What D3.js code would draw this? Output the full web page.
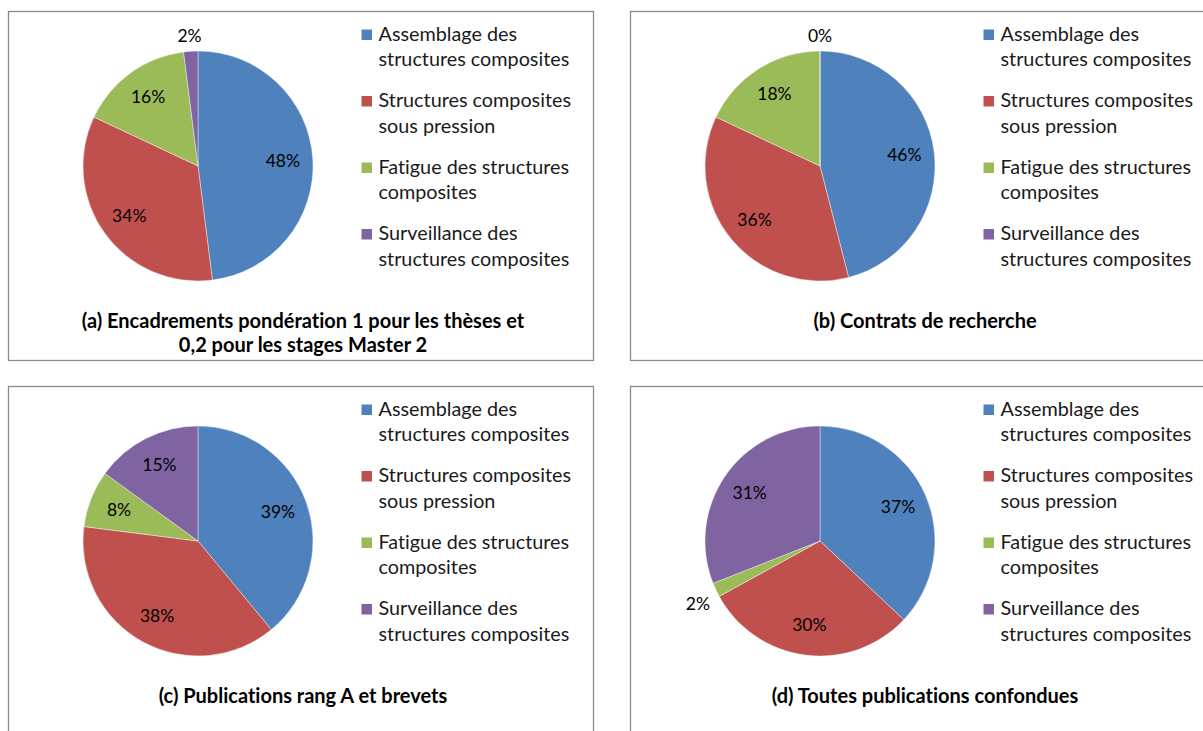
<!DOCTYPE html>
<html lang="fr">
<head>
<meta charset="UTF-8">
<title>Répartition des activités</title>
<style>
  html, body { margin: 0; padding: 0; background: #fff; }
  svg { display: block; font-family: Lato, "Open Sans", sans-serif; font-variant-ligatures: none; }
</style>
</head>
<body>
<div id="chart"></div>
<script src="https://cdn.jsdelivr.net/npm/d3@7"></script>
<script>
// data
var categories = [
  "Assemblage des structures composites",
  "Structures composites sous pression",
  "Fatigue des structures composites",
  "Surveillance des structures composites"
];
// legend lines as wrapped in the original
var legendLines = [
  ["Assemblage des", "structures composites"],
  ["Structures composites", "sous pression"],
  ["Fatigue des structures", "composites"],
  ["Surveillance des", "structures composites"]
];
var colors = ["#4f81bd", "#c0504d", "#9bbb59", "#8064a2"];

var valuesA = [48, 34, 16, 2];
var valuesB = [46, 36, 18, 0];
var valuesC = [39, 38, 8, 15];
var valuesD = [37, 30, 2, 31];

var titleA = ["(a) Encadrements pondération 1 pour les thèses et", "0,2 pour les stages Master 2"];
var titleB = ["(b) Contrats de recherche"];
var titleC = ["(c) Publications rang A et brevets"];
var titleD = ["(d) Toutes publications confondues"];

var width = 1203, height = 731;

var panels = [
  { x: 8.5,   y: 11.5,  w: 585, h: 349, values: valuesA, title: titleA },
  { x: 630.5, y: 11.5,  w: 600, h: 349, values: valuesB, title: titleB },
  { x: 8.5,   y: 386.5, w: 585, h: 360, values: valuesC, title: titleC },
  { x: 630.5, y: 386.5, w: 600, h: 360, values: valuesD, title: titleD }
];

var radius = 115;
var labelR = 85;

var svg = d3.select("#chart").append("svg")
  .attr("width", width)
  .attr("height", height);

var pie = d3.pie().sort(null).value(function (d) { return d; });
var arc = d3.arc().innerRadius(0).outerRadius(radius);
var labelArc = d3.arc().innerRadius(labelR).outerRadius(labelR);

panels.forEach(function (p) {
  var g = svg.append("g").attr("transform", "translate(" + p.x + "," + p.y + ")");

  // frame
  g.append("rect")
    .attr("width", p.w).attr("height", p.h)
    .attr("fill", "#fff")
    .attr("stroke", "#8c8c8c")
    .attr("stroke-width", 1.3);

  // pie
  var pg = g.append("g").attr("transform", "translate(189.5,154.5)");
  var arcs = pie(p.values);

  pg.selectAll("path.slice")
    .data(arcs)
    .enter().append("path")
    .attr("class", "slice")
    .attr("d", arc)
    .attr("fill", function (d, i) { return colors[i]; })
    .attr("stroke", "#fff")
    .attr("stroke-width", 0.4);

  // percentage labels: small slices go outside
  pg.selectAll("text.pct")
    .data(arcs)
    .enter().append("text")
    .attr("class", "pct")
    .attr("font-size", 17.5)
    .attr("fill", "#000")
    .attr("text-anchor", "middle")
    .attr("dy", "0.35em")
    .attr("transform", function (d) {
      var a = (d.startAngle + d.endAngle) / 2;
      if (d.data >= 5) return "translate(" + labelArc.centroid(d) + ")";
      var dx = Math.sin(a), dy = -Math.cos(a);
      var rr = radius + 8;
      var x = dx * rr + dx * 12;
      var y = dy * rr + dy * 7 + (dy > 0.3 ? 8 : 0);
      return "translate(" + x + "," + y + ")";
    })
    .text(function (d) { return d.data + "%"; });

  // legend
  var lg = g.selectAll("g.leg")
    .data(legendLines)
    .enter().append("g")
    .attr("class", "leg")
    .attr("transform", function (d, i) { return "translate(353," + (29 + i * 66.5) + ")"; });

  lg.append("rect")
    .attr("x", 0).attr("y", -11)
    .attr("width", 10.5).attr("height", 10.5)
    .attr("fill", function (d, i) { return colors[i]; });

  lg.append("text")
    .attr("x", 17)
    .attr("font-size", 19.8)
    .attr("fill", "#1a1a1a")
    .selectAll("tspan")
    .data(function (d) { return d; })
    .enter().append("tspan")
    .attr("x", 17)
    .attr("dy", function (d, i) { return i === 0 ? 0 : 25.5; })
    .text(function (d) { return d; });

  // title
  g.append("text")
    .attr("font-size", 20)
    .attr("font-weight", "bold")
    .attr("fill", "#000")
    .attr("text-anchor", "middle")
    .selectAll("tspan")
    .data(p.title)
    .enter().append("tspan")
    .attr("x", 294.5)
    .attr("y", function (d, i) { return 316 + i * 24; })
    .text(function (d) { return d; });
});
</script>
</body>
</html>
